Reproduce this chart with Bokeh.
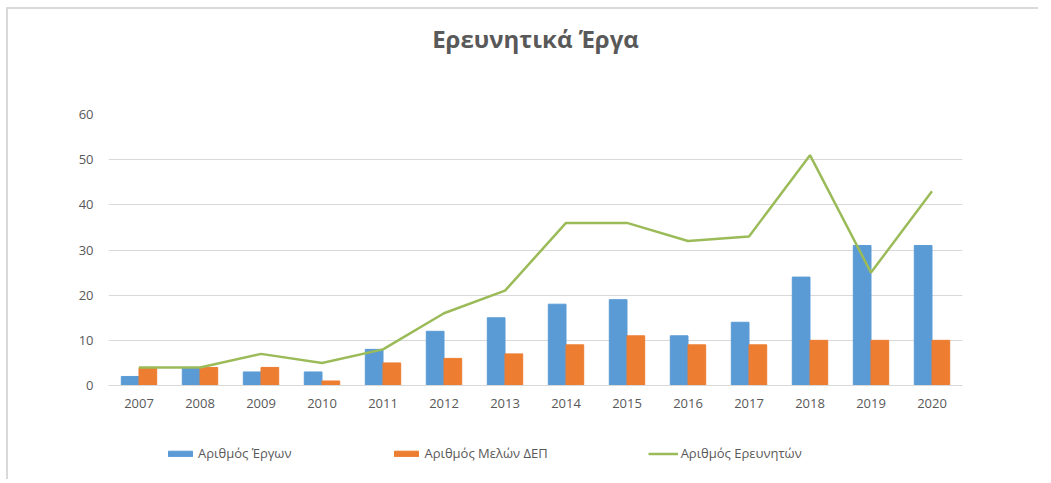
from bokeh.plotting import figure
from bokeh.layouts import column
from bokeh.models import ColumnDataSource, FactorRange, Legend, LegendItem, Range1d, FixedTicker, Title
from bokeh.transform import dodge
from bokeh.embed import file_html
from bokeh.resources import INLINE

years = ["2007", "2008", "2009", "2010", "2011", "2012", "2013",
         "2014", "2015", "2016", "2017", "2018", "2019", "2020"]
projects = [2, 4, 3, 3, 8, 12, 15, 18, 19, 11, 14, 24, 31, 31]
faculty = [4, 4, 4, 1, 5, 6, 7, 9, 11, 9, 9, 10, 10, 10]
researchers = [4, 4, 7, 5, 8, 16, 21, 36, 36, 32, 33, 51, 25, 43]
y_ticks = [0, 10, 20, 30, 40, 50, 60]

title_text = "Ερευνητικά Έργα"
names = ["Αριθμός Έργων", "Αριθμός Μελών ΔΕΠ", "Αριθμός Ερευνητών"]
colors = ["#5B9BD5", "#ED7D31", "#9BBB59"]

src = ColumnDataSource(dict(year=years, projects=projects, faculty=faculty, researchers=researchers))

FONT = "Open Sans"
GRAY = "#595959"
W = 1030
bw = 0.29


def draw(fig):
    a = fig.vbar(x=dodge("year", -bw / 2, range=fig.x_range), top="projects", width=bw, source=src,
                 fill_color=colors[0], line_color=colors[0])
    b = fig.vbar(x=dodge("year", bw / 2, range=fig.x_range), top="faculty", width=bw, source=src,
                 fill_color=colors[1], line_color=colors[1])
    c = fig.line(x="year", y="researchers", source=src, line_color=colors[2], line_width=2.5)
    return [a, b, c]


p = figure(x_range=FactorRange(*years, range_padding=0), y_range=Range1d(0, 60),
           width=W, height=406, output_backend="svg", toolbar_location=None,
           min_border_left=100, min_border_right=76, min_border_top=105, min_border_bottom=30)
p.title.visible = False
draw(p)

# spacer title (closest to frame) and the real title
p.add_layout(Title(text=" ", text_font_size="10px", standoff=42), "above")
p.add_layout(Title(text=title_text, align="center", text_font=FONT, text_font_size="24px",
                   text_font_style="bold", text_color=GRAY, standoff=10), "above")

p.outline_line_color = None
p.background_fill_color = "white"
p.border_fill_color = "white"

p.xgrid.grid_line_color = None
p.ygrid.grid_line_color = "#d9d9d9"
p.ygrid.grid_line_width = 1

p.yaxis.ticker = FixedTicker(ticks=y_ticks)
p.yaxis.axis_line_color = None
p.yaxis.major_tick_line_color = None
p.yaxis.minor_tick_line_color = None
p.yaxis.major_label_text_font = FONT
p.yaxis.major_label_text_font_size = "13px"
p.yaxis.major_label_text_color = GRAY
p.yaxis.major_label_standoff = 9

p.xaxis.axis_line_color = "#d9d9d9"
p.xaxis.major_tick_line_color = None
p.xaxis.minor_tick_line_color = None
p.xaxis.major_label_text_font = FONT
p.xaxis.major_label_text_font_size = "13px"
p.xaxis.major_label_text_color = GRAY
p.xaxis.major_label_standoff = 7

# legend strip below the chart (same series drawn outside its visible range)
leg = figure(width=W, height=64, output_backend="svg", toolbar_location=None,
             x_range=FactorRange(*years, range_padding=0), y_range=Range1d(1000, 1001),
             x_axis_location=None, y_axis_location=None,
             min_border_left=0, min_border_right=0, min_border_top=0, min_border_bottom=0)
leg.grid.visible = False
leg.outline_line_color = None
leg.border_fill_color = "white"
rs = draw(leg)

items = [LegendItem(label=nm, renderers=[r]) for r, nm in zip(rs, names)]
lg = Legend(items=items, location=(57, 17), orientation="horizontal",
            border_line_color=None, background_fill_alpha=0,
            padding=0, margin=0, spacing=100, glyph_width=30, glyph_height=7,
            label_standoff=3, label_text_font=FONT, label_text_font_size="13px",
            label_text_color=GRAY, label_height=14)
leg.add_layout(lg, "center")

layout = column(p, leg, spacing=0,
                styles={"border-top": "2px solid #d9d9d9", "border-left": "2px solid #d9d9d9",
                        "margin-top": "7px", "margin-left": "6px"})

open("out.html", "w").write(file_html(layout, INLINE))
